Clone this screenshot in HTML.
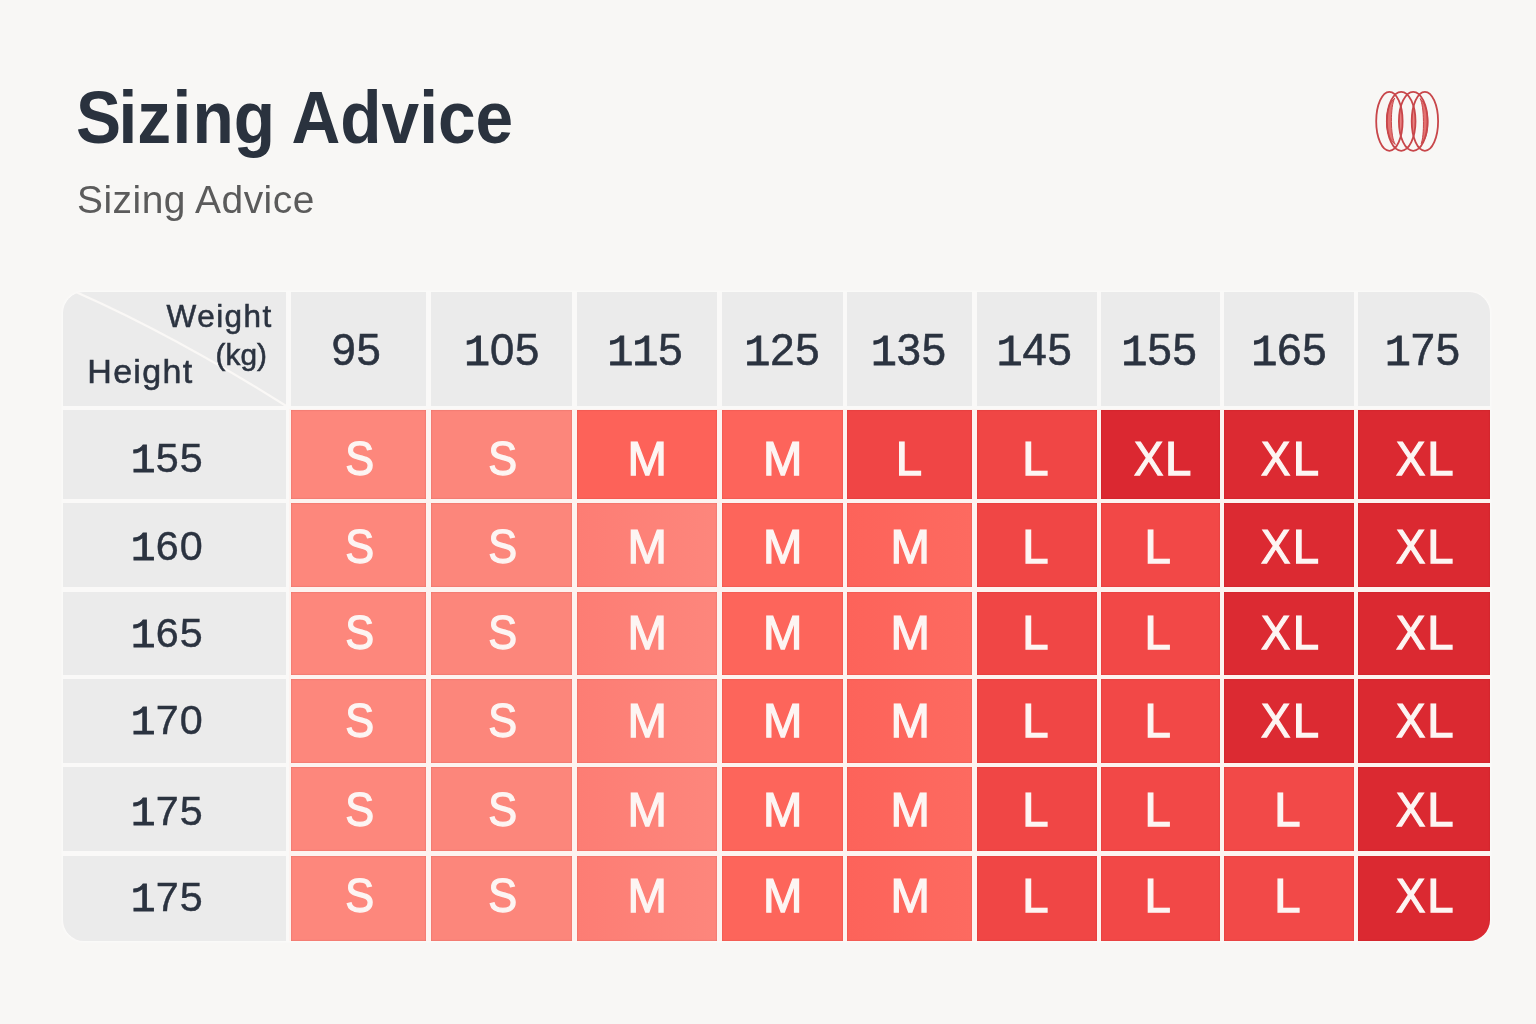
<!DOCTYPE html>
<html><head><meta charset="utf-8"><title>Sizing Advice</title>
<style>
html,body{margin:0;padding:0;}
body{width:1536px;height:1024px;background:#f8f7f5;position:relative;overflow:hidden;font-family:"Liberation Sans",sans-serif;}
.title{position:absolute;left:75.6px;top:77.5px;font-weight:bold;font-size:73.5px;line-height:80px;color:#2a323e;white-space:nowrap;transform-origin:0 0;transform:scaleX(0.92);}
.sub{position:absolute;left:77px;top:178px;will-change:transform;font-size:38.9px;line-height:44px;color:#5b5b5b;white-space:nowrap;letter-spacing:0.5px;}
.tbl{will-change:transform;position:absolute;left:63.0px;top:292.0px;width:1427.0px;height:648.8px;background:#fdf3f0;border-radius:21px;overflow:hidden;box-shadow:0 0 3px 1px rgba(255,255,255,0.55);}
.c{position:absolute;display:flex;align-items:center;justify-content:center;white-space:nowrap;}
.c>span{display:block;position:relative;}
.g{background:#ebebeb;color:#2b3340;}
.h{font-size:43.6px;-webkit-text-stroke:0.55px #2b3340;}
.h>span{letter-spacing:0.8px;margin-right:-0.8px;}
.r{font-size:41.3px;-webkit-text-stroke:0.4px #2b3340;justify-content:flex-start;}
.r>span{letter-spacing:1.1px;}
.z{box-shadow:inset 0 0 1.5px 0 rgba(120,10,10,0.35);color:#fdf5f3;font-size:47.3px;-webkit-text-stroke:1.25px #fdf5f3;}
.o{font-family:"Liberation Mono",monospace;font-style:normal;line-height:0;margin:0 -0.022em;-webkit-text-stroke-width:0.85px;}
.x{display:inline-block;font-weight:normal;transform:scaleX(0.93);margin-right:0.8px;}
.t{position:absolute;white-space:nowrap;color:#2b3340;-webkit-text-stroke:0.55px #2b3340;}
</style></head><body>
<div class="title"><span style="letter-spacing:-2.9px">S</span>i<span style="letter-spacing:1.6px">z</span><span style="letter-spacing:1.3px">i</span>ng Advice</div>
<div class="sub">Sizing Advice</div>
<svg style="position:absolute;left:1366px;top:82px" width="84" height="80" viewBox="1366 82 84 80" fill="none" stroke="#c8464a" stroke-width="1.8" stroke-linecap="round">
<defs><clipPath id="k1"><ellipse cx="1389.4" cy="121.3" rx="13.2" ry="29.5"/></clipPath>
<clipPath id="k2"><ellipse cx="1424.9" cy="121.3" rx="13.2" ry="29.5"/></clipPath></defs>
<ellipse cx="1413.2" cy="121.3" rx="14.3" ry="29.5" fill="#e98180" stroke="none" clip-path="url(#k1)"/>
<ellipse cx="1401.2" cy="121.3" rx="14.3" ry="29.5" fill="#e98180" stroke="none" clip-path="url(#k2)"/>
<path d="M1394.5,98.5 C1383.6,106 1383.6,137 1395.3,144.4 C1390.2,137 1390.2,106 1394.5,98.5 Z" fill="#e37170" stroke-width="1"/>
<path d="M1420.3,98.9 C1430.4,106 1430.4,137 1421.1,143.6 C1424.4,137 1424.4,106 1420.3,98.9 Z" fill="#e37170" stroke-width="1"/>
<ellipse cx="1389.4" cy="121.3" rx="13.2" ry="29.5"/>
<ellipse cx="1401.2" cy="121.3" rx="14.3" ry="29.5"/>
<ellipse cx="1413.2" cy="121.3" rx="14.3" ry="29.5"/>
<ellipse cx="1424.9" cy="121.3" rx="13.2" ry="29.5"/>
</svg>
<div class="tbl">
<div style="position:absolute;left:0;top:0;width:100%;height:117.1px;background:#faf9f8"></div><div style="position:absolute;left:0;top:0;height:100%;width:226.3px;background:#faf9f8"></div>
<div class="c g" style="left:0;top:0;width:223.2px;height:114.1px;"><svg style="position:absolute;left:0;top:0" width="223.2" height="114.1"><path d="M12.3,-0.2 Q109.4,42.5 224.8,114.9" fill="none" stroke="#faf8f6" stroke-width="2.3"/></svg><div class="t" style="left:103.6px;top:4.6px;font-size:31.5px;line-height:38px;letter-spacing:1.45px;">Weight</div><div class="t" style="left:152.6px;top:45.6px;font-size:29.8px;line-height:34px;">(kg)</div><div class="t" style="left:24.3px;top:58.8px;font-size:34px;line-height:40px;letter-spacing:1.3px;">Height</div></div>
<div class="c g h" style="left:227.5px;top:0.0px;width:135.9px;height:114.1px;"><span style="left:-2.30px;top:1.43px">95</span></div>
<div class="c g h" style="left:367.8px;top:0.0px;width:141.6px;height:114.1px;"><span style="left:0.60px;top:1.43px"><i class="o">1</i>05</span></div>
<div class="c g h" style="left:513.6px;top:0.0px;width:140.6px;height:114.1px;"><span style="left:-1.60px;top:1.43px"><i class="o">1</i><i class="o">1</i>5</span></div>
<div class="c g h" style="left:658.5px;top:0.0px;width:121.1px;height:114.1px;"><span style="left:0.30px;top:1.43px"><i class="o">1</i>25</span></div>
<div class="c g h" style="left:783.9px;top:0.0px;width:125.5px;height:114.1px;"><span style="left:-0.80px;top:1.43px"><i class="o">1</i>35</span></div>
<div class="c g h" style="left:913.8px;top:0.0px;width:119.8px;height:114.1px;"><span style="left:-2.15px;top:1.43px"><i class="o">1</i>45</span></div>
<div class="c g h" style="left:1037.9px;top:0.0px;width:119.0px;height:114.1px;"><span style="left:-0.90px;top:1.43px"><i class="o">1</i>55</span></div>
<div class="c g h" style="left:1161.2px;top:0.0px;width:129.7px;height:114.1px;"><span style="left:0.35px;top:1.43px"><i class="o">1</i>65</span></div>
<div class="c g h" style="left:1295.2px;top:0.0px;width:131.8px;height:114.1px;"><span style="left:-1.15px;top:1.43px"><i class="o">1</i>75</span></div>
<div class="c g r" style="left:0.0px;top:118.3px;width:223.2px;height:88.5px;"><span style="left:68.70px;top:4.35px"><i class="o">1</i>55</span></div>
<div class="c z" style="left:227.5px;top:118.3px;width:135.9px;height:88.5px;background:#fd877c;"><span style="left:1.70px;top:3.75px;transform:scaleX(0.915)">S</span></div>
<div class="c z" style="left:367.8px;top:118.3px;width:141.6px;height:88.5px;background:#fc867b;"><span style="left:1.20px;top:3.75px;transform:scaleX(0.915)">S</span></div>
<div class="c z" style="left:513.6px;top:118.3px;width:140.6px;height:88.5px;background:#fd6259;"><span style="left:0.30px;top:3.75px">M</span></div>
<div class="c z" style="left:658.5px;top:118.3px;width:121.1px;height:88.5px;background:#fd645b;"><span style="left:0.70px;top:3.75px">M</span></div>
<div class="c z" style="left:783.9px;top:118.3px;width:125.5px;height:88.5px;background:#f04545;"><span style="left:-0.80px;top:3.75px">L</span></div>
<div class="c z" style="left:913.8px;top:118.3px;width:119.8px;height:88.5px;background:#f04645;"><span style="left:-1.30px;top:3.75px">L</span></div>
<div class="c z" style="left:1037.9px;top:118.3px;width:119.0px;height:88.5px;background:#db2831;"><span style="left:1.70px;top:3.75px"><b class="x">X</b>L</span></div>
<div class="c z" style="left:1161.2px;top:118.3px;width:129.7px;height:88.5px;background:#dc2a32;"><span style="left:0.60px;top:3.75px"><b class="x">X</b>L</span></div>
<div class="c z" style="left:1295.2px;top:118.3px;width:131.8px;height:88.5px;background:#db2931;"><span style="left:0.10px;top:3.75px"><b class="x">X</b>L</span></div>
<div class="c g r" style="left:0.0px;top:211.1px;width:223.2px;height:84.1px;"><span style="left:68.70px;top:1.65px"><i class="o">1</i>60</span></div>
<div class="c z" style="left:227.5px;top:211.1px;width:135.9px;height:84.1px;background:#fd877c;"><span style="left:1.70px;top:1.15px;transform:scaleX(0.915)">S</span></div>
<div class="c z" style="left:367.8px;top:211.1px;width:141.6px;height:84.1px;background:#fc867b;"><span style="left:1.20px;top:1.15px;transform:scaleX(0.915)">S</span></div>
<div class="c z" style="left:513.6px;top:211.1px;width:140.6px;height:84.1px;background:linear-gradient(90deg,#fd7d74,#fd867c);"><span style="left:0.30px;top:1.15px">M</span></div>
<div class="c z" style="left:658.5px;top:211.1px;width:121.1px;height:84.1px;background:#fd655b;"><span style="left:0.70px;top:1.15px">M</span></div>
<div class="c z" style="left:783.9px;top:211.1px;width:125.5px;height:84.1px;background:linear-gradient(90deg,#fd635a,#fd6a60);"><span style="left:0.45px;top:1.15px">M</span></div>
<div class="c z" style="left:913.8px;top:211.1px;width:119.8px;height:84.1px;background:#f04645;"><span style="left:-1.30px;top:1.15px">L</span></div>
<div class="c z" style="left:1037.9px;top:211.1px;width:119.0px;height:84.1px;background:#f24847;"><span style="left:-2.65px;top:1.15px">L</span></div>
<div class="c z" style="left:1161.2px;top:211.1px;width:129.7px;height:84.1px;background:#dc2a32;"><span style="left:0.60px;top:1.15px"><b class="x">X</b>L</span></div>
<div class="c z" style="left:1295.2px;top:211.1px;width:131.8px;height:84.1px;background:#db2931;"><span style="left:0.10px;top:1.15px"><b class="x">X</b>L</span></div>
<div class="c g r" style="left:0.0px;top:299.5px;width:223.2px;height:83.2px;"><span style="left:68.70px;top:-0.00px"><i class="o">1</i>65</span></div>
<div class="c z" style="left:227.5px;top:299.5px;width:135.9px;height:83.2px;background:#fd877c;"><span style="left:1.70px;top:-0.50px;transform:scaleX(0.915)">S</span></div>
<div class="c z" style="left:367.8px;top:299.5px;width:141.6px;height:83.2px;background:#fc867b;"><span style="left:1.20px;top:-0.50px;transform:scaleX(0.915)">S</span></div>
<div class="c z" style="left:513.6px;top:299.5px;width:140.6px;height:83.2px;background:linear-gradient(90deg,#fd7d74,#fd867c);"><span style="left:0.30px;top:-0.50px">M</span></div>
<div class="c z" style="left:658.5px;top:299.5px;width:121.1px;height:83.2px;background:#fd655b;"><span style="left:0.70px;top:-0.50px">M</span></div>
<div class="c z" style="left:783.9px;top:299.5px;width:125.5px;height:83.2px;background:linear-gradient(90deg,#fd635a,#fd6a60);"><span style="left:0.45px;top:-0.50px">M</span></div>
<div class="c z" style="left:913.8px;top:299.5px;width:119.8px;height:83.2px;background:#f04645;"><span style="left:-1.30px;top:-0.50px">L</span></div>
<div class="c z" style="left:1037.9px;top:299.5px;width:119.0px;height:83.2px;background:#f24847;"><span style="left:-2.65px;top:-0.50px">L</span></div>
<div class="c z" style="left:1161.2px;top:299.5px;width:129.7px;height:83.2px;background:#dc2a32;"><span style="left:0.60px;top:-0.50px"><b class="x">X</b>L</span></div>
<div class="c z" style="left:1295.2px;top:299.5px;width:131.8px;height:83.2px;background:#db2931;"><span style="left:0.10px;top:-0.50px"><b class="x">X</b>L</span></div>
<div class="c g r" style="left:0.0px;top:387.0px;width:223.2px;height:84.0px;"><span style="left:68.70px;top:-0.30px"><i class="o">1</i>70</span></div>
<div class="c z" style="left:227.5px;top:387.0px;width:135.9px;height:84.0px;background:#fd877c;"><span style="left:1.70px;top:-0.20px;transform:scaleX(0.915)">S</span></div>
<div class="c z" style="left:367.8px;top:387.0px;width:141.6px;height:84.0px;background:#fc867b;"><span style="left:1.20px;top:-0.20px;transform:scaleX(0.915)">S</span></div>
<div class="c z" style="left:513.6px;top:387.0px;width:140.6px;height:84.0px;background:linear-gradient(90deg,#fd7d74,#fd867c);"><span style="left:0.30px;top:-0.20px">M</span></div>
<div class="c z" style="left:658.5px;top:387.0px;width:121.1px;height:84.0px;background:#fd655b;"><span style="left:0.70px;top:-0.20px">M</span></div>
<div class="c z" style="left:783.9px;top:387.0px;width:125.5px;height:84.0px;background:linear-gradient(90deg,#fd635a,#fd6a60);"><span style="left:0.45px;top:-0.20px">M</span></div>
<div class="c z" style="left:913.8px;top:387.0px;width:119.8px;height:84.0px;background:#f04645;"><span style="left:-1.30px;top:-0.20px">L</span></div>
<div class="c z" style="left:1037.9px;top:387.0px;width:119.0px;height:84.0px;background:#f24847;"><span style="left:-2.65px;top:-0.20px">L</span></div>
<div class="c z" style="left:1161.2px;top:387.0px;width:129.7px;height:84.0px;background:#dc2a32;"><span style="left:0.60px;top:-0.20px"><b class="x">X</b>L</span></div>
<div class="c z" style="left:1295.2px;top:387.0px;width:131.8px;height:84.0px;background:#db2931;"><span style="left:0.10px;top:-0.20px"><b class="x">X</b>L</span></div>
<div class="c g r" style="left:0.0px;top:475.4px;width:223.2px;height:84.0px;"><span style="left:68.70px;top:1.80px"><i class="o">1</i>75</span></div>
<div class="c z" style="left:227.5px;top:475.4px;width:135.9px;height:84.0px;background:#fd877c;"><span style="left:1.70px;top:0.10px;transform:scaleX(0.915)">S</span></div>
<div class="c z" style="left:367.8px;top:475.4px;width:141.6px;height:84.0px;background:#fc867b;"><span style="left:1.20px;top:0.10px;transform:scaleX(0.915)">S</span></div>
<div class="c z" style="left:513.6px;top:475.4px;width:140.6px;height:84.0px;background:linear-gradient(90deg,#fd7d74,#fd867c);"><span style="left:0.30px;top:0.10px">M</span></div>
<div class="c z" style="left:658.5px;top:475.4px;width:121.1px;height:84.0px;background:#fd655b;"><span style="left:0.70px;top:0.10px">M</span></div>
<div class="c z" style="left:783.9px;top:475.4px;width:125.5px;height:84.0px;background:linear-gradient(90deg,#fd635a,#fd6a60);"><span style="left:0.45px;top:0.10px">M</span></div>
<div class="c z" style="left:913.8px;top:475.4px;width:119.8px;height:84.0px;background:#f04645;"><span style="left:-1.30px;top:0.10px">L</span></div>
<div class="c z" style="left:1037.9px;top:475.4px;width:119.0px;height:84.0px;background:#f24847;"><span style="left:-2.65px;top:0.10px">L</span></div>
<div class="c z" style="left:1161.2px;top:475.4px;width:129.7px;height:84.0px;background:#f24948;"><span style="left:-1.70px;top:0.10px">L</span></div>
<div class="c z" style="left:1295.2px;top:475.4px;width:131.8px;height:84.0px;background:#db2931;"><span style="left:0.10px;top:0.10px"><b class="x">X</b>L</span></div>
<div class="c g r" style="left:0.0px;top:563.6px;width:223.2px;height:85.1px;"><span style="left:68.70px;top:-0.77px"><i class="o">1</i>75</span></div>
<div class="c z" style="left:227.5px;top:563.6px;width:135.9px;height:85.1px;background:#fd877c;"><span style="left:1.70px;top:-2.47px;transform:scaleX(0.915)">S</span></div>
<div class="c z" style="left:367.8px;top:563.6px;width:141.6px;height:85.1px;background:#fc867b;"><span style="left:1.20px;top:-2.47px;transform:scaleX(0.915)">S</span></div>
<div class="c z" style="left:513.6px;top:563.6px;width:140.6px;height:85.1px;background:linear-gradient(90deg,#fd7d74,#fd867c);"><span style="left:0.30px;top:-2.47px">M</span></div>
<div class="c z" style="left:658.5px;top:563.6px;width:121.1px;height:85.1px;background:#fd655b;"><span style="left:0.70px;top:-2.47px">M</span></div>
<div class="c z" style="left:783.9px;top:563.6px;width:125.5px;height:85.1px;background:linear-gradient(90deg,#fd635a,#fd6a60);"><span style="left:0.45px;top:-2.47px">M</span></div>
<div class="c z" style="left:913.8px;top:563.6px;width:119.8px;height:85.1px;background:#f04645;"><span style="left:-1.30px;top:-2.47px">L</span></div>
<div class="c z" style="left:1037.9px;top:563.6px;width:119.0px;height:85.1px;background:#f24847;"><span style="left:-2.65px;top:-2.47px">L</span></div>
<div class="c z" style="left:1161.2px;top:563.6px;width:129.7px;height:85.1px;background:#f24948;"><span style="left:-1.70px;top:-2.47px">L</span></div>
<div class="c z" style="left:1295.2px;top:563.6px;width:131.8px;height:85.1px;background:#db2931;"><span style="left:0.10px;top:-2.47px"><b class="x">X</b>L</span></div>
</div>
</body></html>
